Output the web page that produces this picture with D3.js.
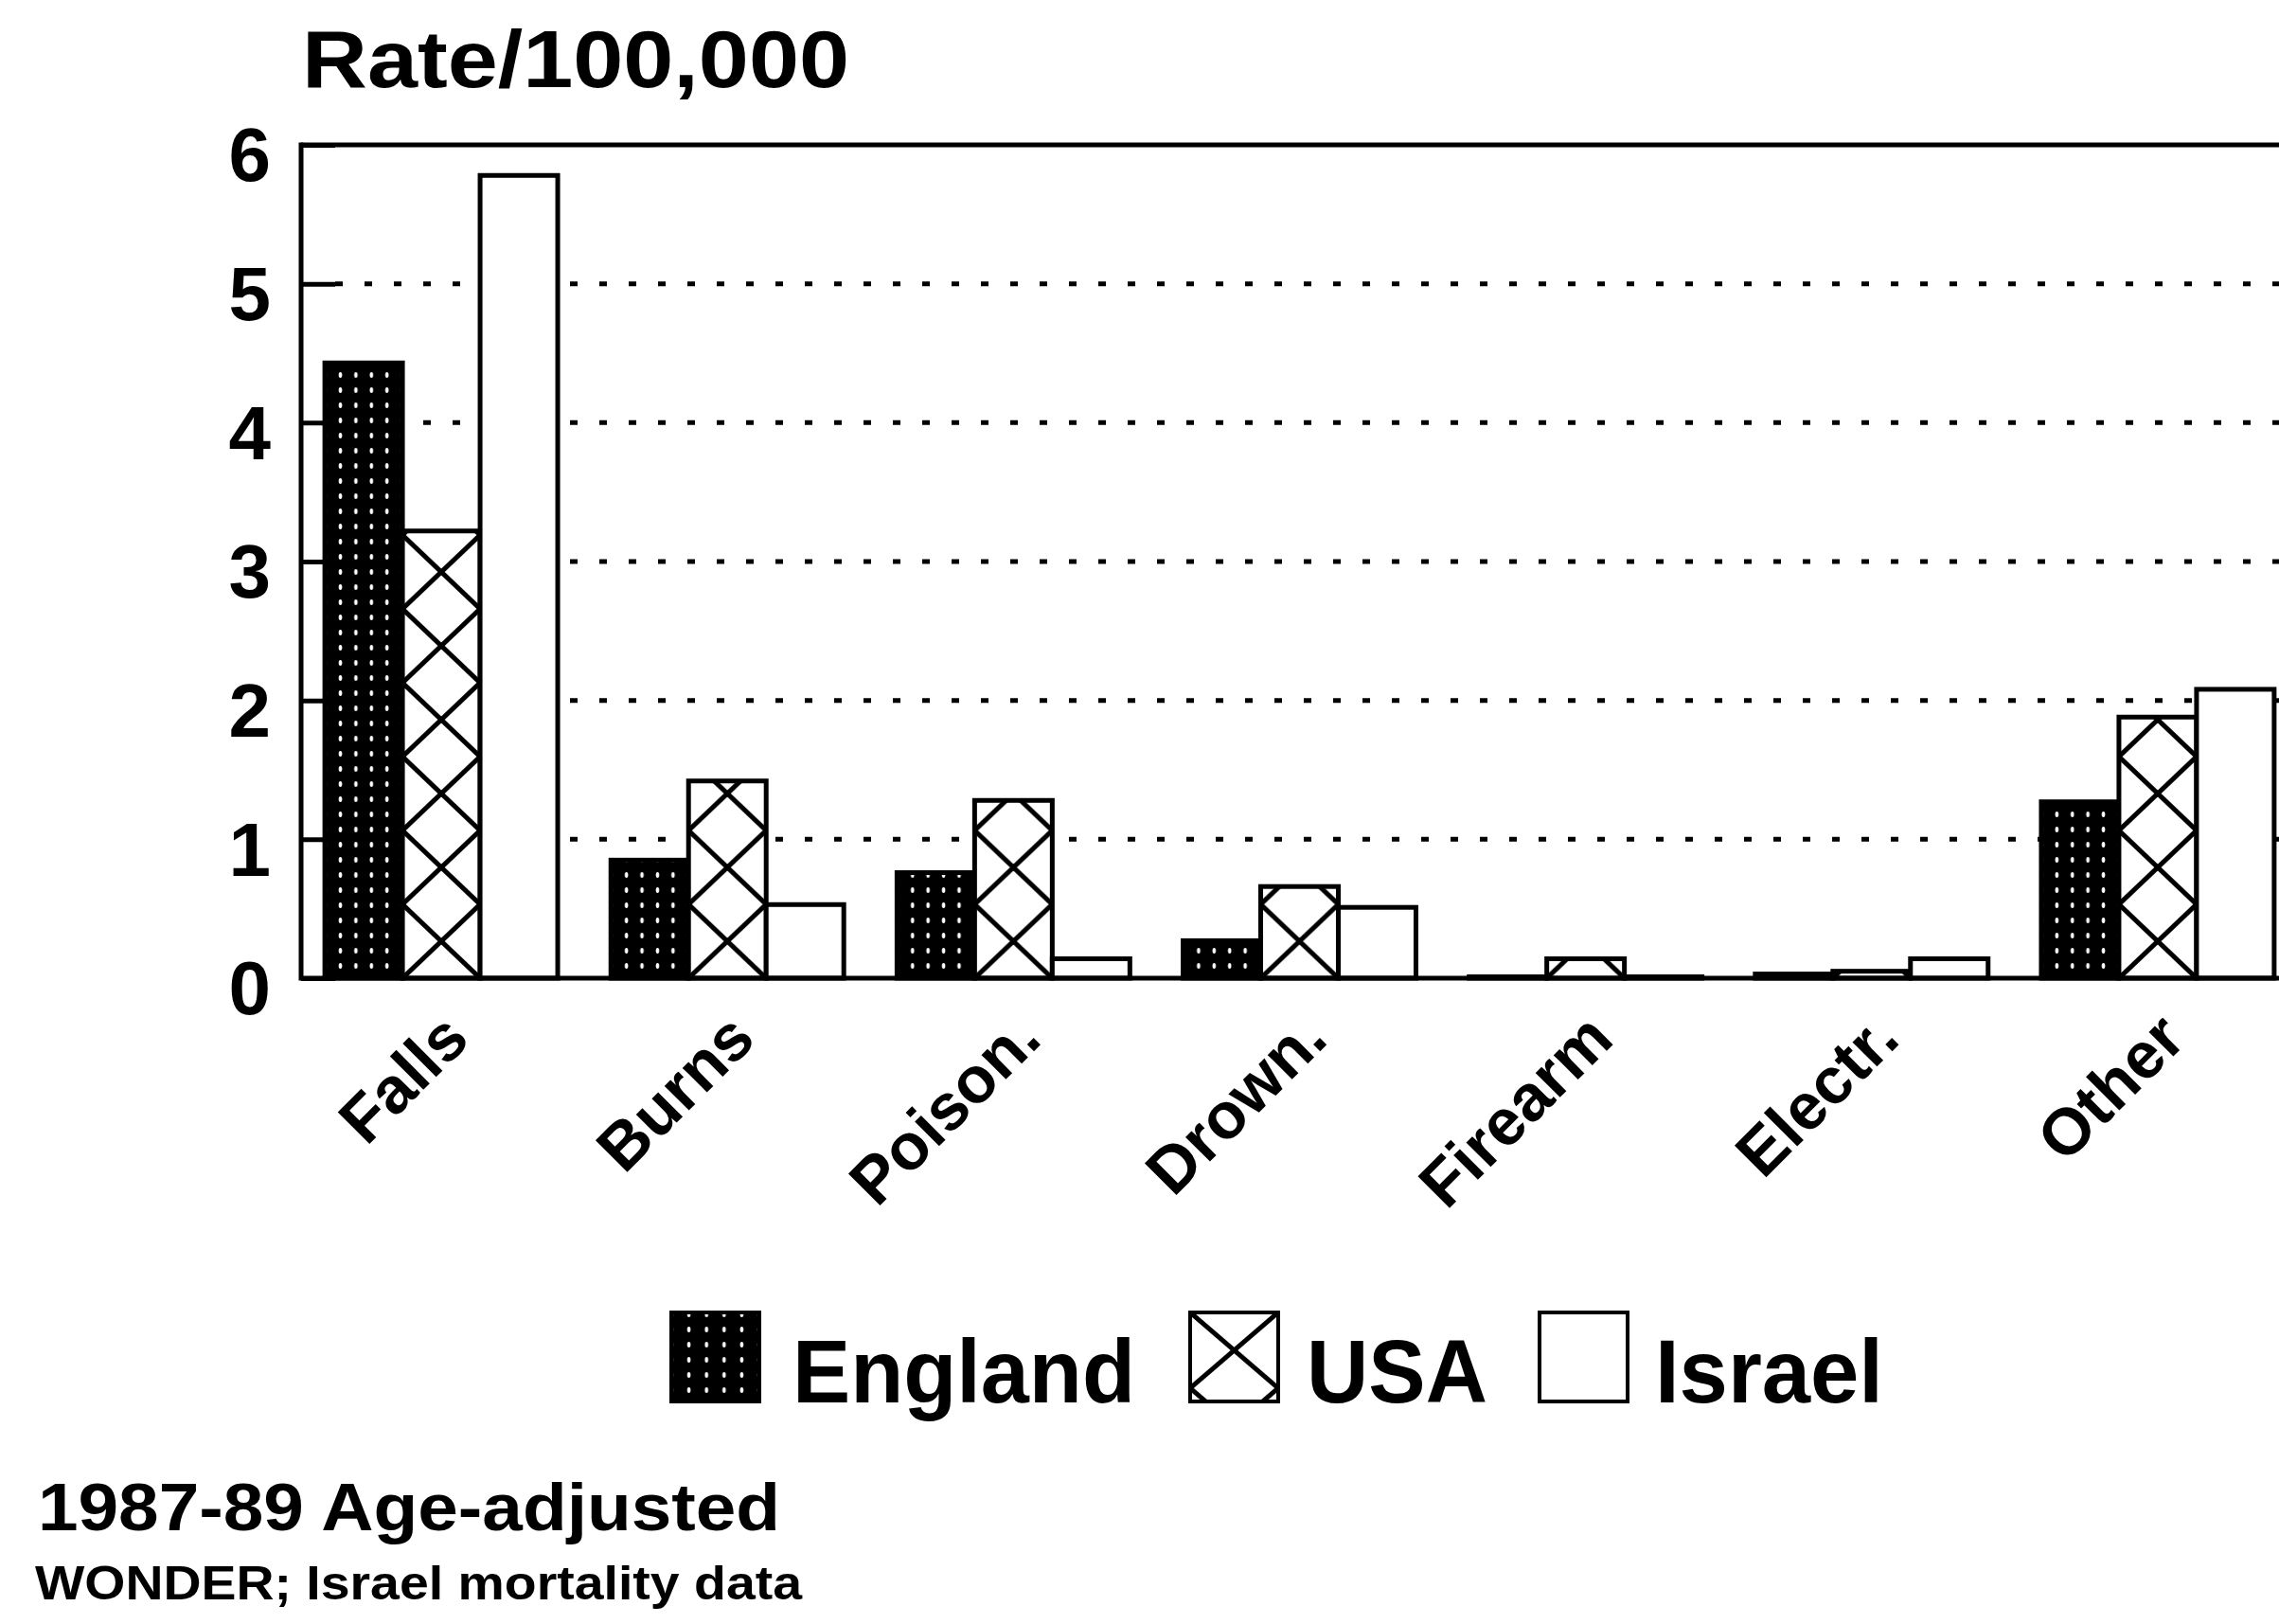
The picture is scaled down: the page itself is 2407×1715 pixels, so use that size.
<!DOCTYPE html>
<html>
<head>
<meta charset="utf-8">
<script src="https://cdn.jsdelivr.net/npm/d3@7"></script>
<style>
  html, body { margin: 0; padding: 0; background: #fff; }
  svg { display: block; }
  text { font-family: "Liberation Sans", Arial, Helvetica, sans-serif; font-weight: bold; fill: #000; }
</style>
</head>
<body>
<script>
// ---- data ----
const categories = ["Falls", "Burns", "Poison.", "Drown.", "Firearm", "Electr.", "Other"];
const seriesNames = ["England", "USA", "Israel"];
const england = [4.43, 0.85, 0.76, 0.27, 0.01, 0.03, 1.27];
const usa     = [3.22, 1.42, 1.28, 0.66, 0.14, 0.05, 1.88];
const israel  = [5.78, 0.53, 0.14, 0.51, 0.01, 0.14, 2.08];
const yTicks = [0, 1, 2, 3, 4, 5, 6];
const gridTicks = [1, 2, 3, 4, 5];
const titleText = "Rate/100,000";
const footer1 = "1987-89 Age-adjusted";
const footer2 = "WONDER; Israel mortality data";

const W = 2407, H = 1715;
const svg = d3.select("body").append("svg").attr("width", W).attr("height", H);
svg.append("rect").attr("width", W).attr("height", H).attr("fill", "#fff");
const defs = svg.append("defs");

const axisX = 318;
const x = d3.scaleBand().domain(categories).range([315, 2430]).paddingInner(0.186).paddingOuter(0.093);
const xs = d3.scaleBand().domain(seriesNames).range([0, x.bandwidth()]);
const y = d3.scaleLinear().domain([0, 6]).range([1033, 153]);

const valuesBySeries = { England: england, USA: usa, Israel: israel };
const rows = [];
categories.forEach((c, i) => {
  seriesNames.forEach(s => rows.push({ cat: c, i, series: s, value: valuesBySeries[s][i] }));
});

// ---- patterns ----
function dotPattern(id, x0, w) {
  const tw = w / 5, th = 16;
  const p = defs.append("pattern").attr("id", id).attr("patternUnits", "userSpaceOnUse")
    .attr("x", x0 + tw / 2).attr("y", 4).attr("width", tw).attr("height", th);
  p.append("rect").attr("width", tw).attr("height", th).attr("fill", "#000");
  p.append("ellipse").attr("cx", tw / 2).attr("cy", th / 2).attr("rx", 1.8).attr("ry", 3).attr("fill", "#fff");
}
function hatchPattern(id, x0, y0, w, h) {
  const p = defs.append("pattern").attr("id", id).attr("patternUnits", "userSpaceOnUse")
    .attr("x", x0).attr("y", y0).attr("width", w).attr("height", h);
  p.append("rect").attr("width", w).attr("height", h).attr("fill", "#fff");
  const segs = [];
  [-w, 0, w].forEach(dx => [-h, 0, h].forEach(dy => {
    segs.push([dx, dy, dx + w, dy + h]);
    segs.push([dx + w, dy, dx, dy + h]);
  }));
  p.selectAll("line").data(segs).join("line")
    .attr("x1", d => d[0]).attr("y1", d => d[1]).attr("x2", d => d[2]).attr("y2", d => d[3])
    .attr("stroke", "#000").attr("stroke-width", 5);
}
categories.forEach((c, i) => {
  dotPattern("eng-" + i, x(c) + xs("England"), xs.bandwidth());
  hatchPattern("usa-" + i, x(c) + xs("USA"), y(0), xs.bandwidth(), 78);
});

// ---- title ----
svg.append("text").attr("x", 319).attr("y", 92).attr("font-size", 86)
  .attr("textLength", 578).attr("lengthAdjust", "spacingAndGlyphs").text(titleText);

// ---- gridlines ----
svg.append("g").selectAll("line").data(gridTicks).join("line")
  .attr("x1", axisX + 36).attr("x2", W + 10)
  .attr("y1", d => y(d)).attr("y2", d => y(d))
  .attr("stroke", "#000").attr("stroke-width", 5).attr("stroke-dasharray", "8 23");

// ---- bars ----
svg.append("g").selectAll("rect").data(rows).join("rect")
  .attr("x", d => x(d.cat) + xs(d.series))
  .attr("y", d => y(d.value))
  .attr("width", xs.bandwidth())
  .attr("height", d => y(0) - y(d.value))
  .attr("fill", d => d.series === "England" ? `url(#eng-${d.i})` : d.series === "USA" ? `url(#usa-${d.i})` : "#fff")
  .attr("stroke", "#000").attr("stroke-width", 5);

// ---- y axis ----
const yAxis = svg.append("g").attr("transform", `translate(${axisX},0)`)
  .call(d3.axisLeft(y).tickValues(yTicks).tickSize(-36).tickPadding(32).tickFormat(d3.format("d")));
yAxis.select(".domain").remove();
yAxis.selectAll(".tick line").attr("stroke", "#000").attr("stroke-width", 5);
yAxis.selectAll(".tick text").attr("font-size", 80).attr("font-family", null)
  .attr("dy", "0.36em").attr("transform", "translate(0,9)");

// frame lines
svg.append("line").attr("x1", axisX).attr("x2", axisX).attr("y1", y(6) - 2.5).attr("y2", y(0) + 2.5)
  .attr("stroke", "#000").attr("stroke-width", 5);
svg.append("line").attr("x1", axisX).attr("x2", W + 10).attr("y1", y(6)).attr("y2", y(6))
  .attr("stroke", "#000").attr("stroke-width", 5);
svg.append("line").attr("x1", axisX).attr("x2", W + 10).attr("y1", y(0)).attr("y2", y(0))
  .attr("stroke", "#000").attr("stroke-width", 5);

// ---- x axis labels ----
const xAxis = svg.append("g").attr("transform", `translate(0,${y(0)})`)
  .call(d3.axisBottom(x).tickSize(0).tickPadding(0));
xAxis.select(".domain").remove();
xAxis.selectAll(".tick text")
  .attr("font-size", 69).attr("font-family", null)
  .attr("text-anchor", "end").attr("dy", 0).attr("y", 0)
  .attr("transform", "translate(32,67) rotate(-45)");

// ---- legend ----
const legendItems = [
  { name: "England", sx: 709, tx: 837, tl: 362 },
  { name: "USA", sx: 1257, tx: 1380, tl: 191 },
  { name: "Israel", sx: 1626, tx: 1748, tl: 241 }
];
const swW = 93, swH = 94, swY = 1386;
dotPattern("eng-leg", legendItems[0].sx, swW);
hatchPattern("usa-leg", legendItems[1].sx, swY, swW, swH * 0.85);
const lg = svg.append("g");
lg.selectAll("rect").data(legendItems).join("rect")
  .attr("x", d => d.sx).attr("y", swY).attr("width", swW).attr("height", swH)
  .attr("fill", d => d.name === "England" ? "url(#eng-leg)" : d.name === "USA" ? "url(#usa-leg)" : "#fff")
  .attr("stroke", "#000").attr("stroke-width", 4);
lg.selectAll("text").data(legendItems).join("text")
  .attr("x", d => d.tx).attr("y", 1481).attr("font-size", 94)
  .attr("textLength", d => d.tl).attr("lengthAdjust", "spacingAndGlyphs")
  .text(d => d.name);

// ---- footer ----
svg.append("text").attr("x", 40).attr("y", 1616).attr("font-size", 71)
  .attr("textLength", 784).attr("lengthAdjust", "spacingAndGlyphs").text(footer1);
svg.append("text").attr("x", 37).attr("y", 1689).attr("font-size", 50)
  .attr("textLength", 810).attr("lengthAdjust", "spacingAndGlyphs").text(footer2);
</script>
</body>
</html>
